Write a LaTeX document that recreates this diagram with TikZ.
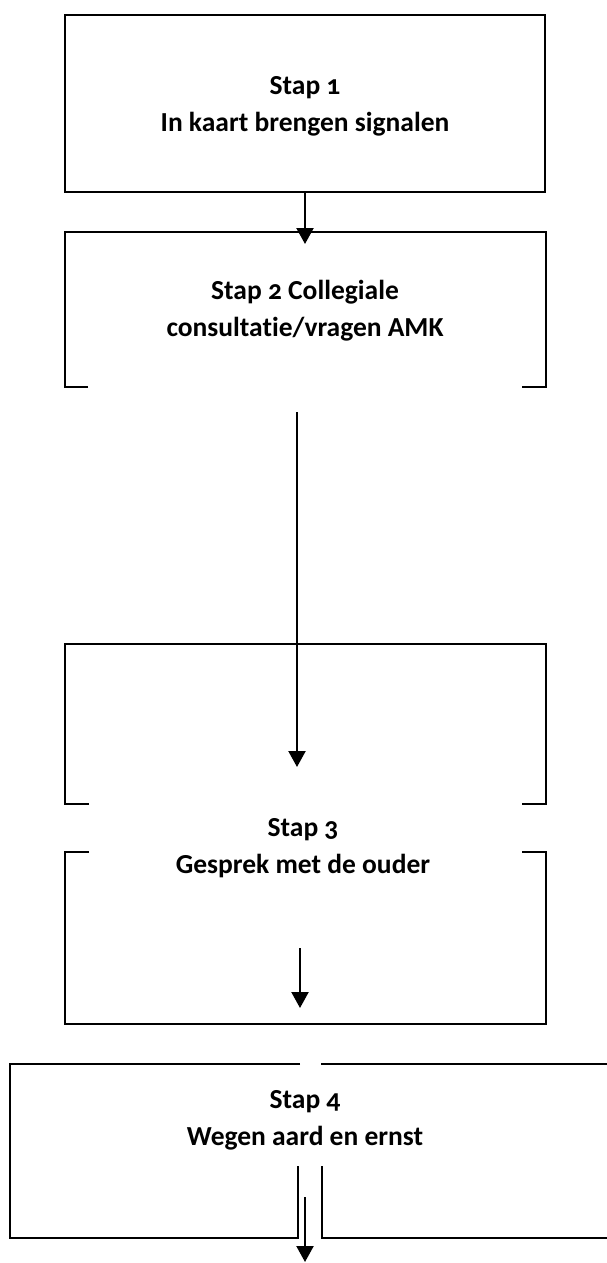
\documentclass[tikz,border=0pt]{standalone}
\usepackage{fontspec}
\setmainfont{Carlito}[Numbers=OldStyle,Ligatures=NoCommon]
\usetikzlibrary{arrows.meta}

\begin{document}
\begin{tikzpicture}[x=1pt,y=-1pt,line width=2pt]
  \tikzstyle{box line} = [draw,line width=2pt]
  \tikzstyle{flow arrow} = [draw,line width=2.2pt,-{Triangle[length=16pt,width=17pt]}]
  \tikzstyle{stap label} = [align=center,font=\fontsize{27.5}{37}\selectfont\bfseries,inner sep=0pt]
  \useasboundingbox (0,0) rectangle (606,1263);

  % labels
  \node[stap label] (S1) at (305,106)  {Stap 1\\In kaart brengen signalen};
  \node[stap label] (S2) at (305,311)  {Stap 2 Collegiale\\consultatie/vragen AMK};
  \node[stap label] (S3) at (303,848)  {Stap 3\\Gesprek met de ouder};
  \node[stap label] (S4) at (305,1120) {Stap 4\\Wegen aard en ernst};

  % boxes
  \draw[box line] (65,15) rectangle (545,192);
  \draw[box line] (88,387) -- (65,387) -- (65,232) -- (546,232) -- (546,387) -- (522,387);
  \draw[box line] (89,804) -- (65,804) -- (65,644) -- (546,644) -- (546,804) -- (522,804);
  \draw[box line] (89,852) -- (65,852) -- (65,1024) -- (546,1024) -- (546,852) -- (522,852);
  \draw[box line] (300,1064) -- (10,1064) -- (10,1238) -- (298,1238) -- (298,1166);
  \draw[box line] (321,1064) -- (610,1064);
  \draw[box line] (322,1166) -- (322,1238) -- (610,1238);

  % arrow ends
  \coordinate (A1) at (305,192);
  \coordinate (B1) at (305,244);
  \coordinate (A2) at (297,412);
  \coordinate (B2) at (297,767);
  \coordinate (A3) at (300,948);
  \coordinate (B3) at (300,1008);
  \coordinate (A4) at (305,1197);
  \coordinate (B4) at (305,1262);

  \path[flow arrow] (A1) -- (B1);
  \path[flow arrow] (A2) -- (B2);
  \path[flow arrow] (A3) -- (B3);
  \path[flow arrow] (A4) -- (B4);
\end{tikzpicture}
\end{document}
